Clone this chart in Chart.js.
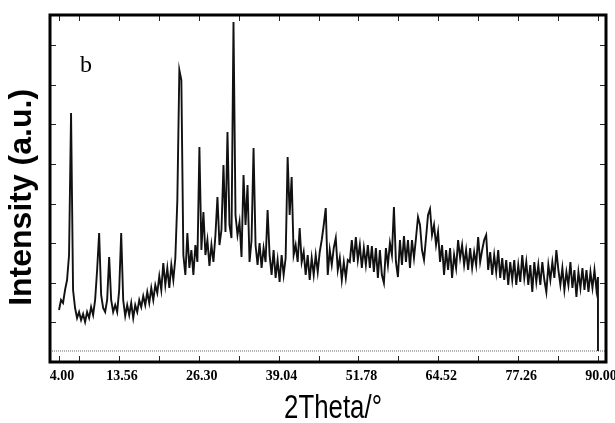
<!DOCTYPE html>
<html>
<head>
<meta charset="utf-8">
<script src="https://cdn.jsdelivr.net/npm/chart.js@4.4.0/dist/chart.umd.min.js"></script>
<style>
  html, body { margin: 0; padding: 0; background: #fff; }
</style>
</head>
<body>
<canvas id="xrdChart" width="615" height="423"></canvas>
<script>
// XRD pattern, panel b
// 2theta (deg) and intensity (a.u.)
const twoTheta = [
  4.00, 4.32, 4.64, 4.96, 5.28, 5.60, 5.92, 6.24, 6.56, 6.88,
  7.20, 7.52, 7.84, 8.16, 8.48, 8.80, 9.12, 9.44, 9.76, 10.08,
  10.40, 10.72, 11.04, 11.36, 11.68, 12.00, 12.32, 12.64, 12.96, 13.28,
  13.60, 13.92, 14.24, 14.56, 14.88, 15.20, 15.52, 15.84, 16.16, 16.48,
  16.80, 17.12, 17.44, 17.76, 18.08, 18.40, 18.72, 19.04, 19.36, 19.68,
  20.00, 20.32, 20.64, 20.96, 21.28, 21.60, 21.92, 22.24, 22.56, 22.88,
  23.20, 23.52, 23.84, 24.16, 24.48, 24.80, 25.12, 25.44, 25.76, 26.08,
  26.40, 26.72, 27.04, 27.36, 27.68, 28.00, 28.32, 28.64, 28.96, 29.28,
  29.60, 29.92, 30.24, 30.56, 30.88, 31.20, 31.52, 31.84, 32.16, 32.48,
  32.80, 33.12, 33.44, 33.76, 34.08, 34.40, 34.72, 35.04, 35.36, 35.68,
  36.00, 36.32, 36.64, 36.96, 37.28, 37.60, 37.92, 38.24, 38.56, 38.88,
  39.20, 39.52, 39.84, 40.16, 40.48, 40.80, 41.12, 41.44, 41.76, 42.08,
  42.40, 42.72, 43.04, 43.36, 43.68, 44.00, 44.32, 44.64, 44.96, 45.28,
  45.60, 45.92, 46.24, 46.56, 46.88, 47.20, 47.52, 47.84, 48.16, 48.48,
  48.80, 49.12, 49.44, 49.76, 50.08, 50.40, 50.72, 51.04, 51.36, 51.68,
  52.00, 52.32, 52.64, 52.96, 53.28, 53.60, 53.92, 54.24, 54.56, 54.88,
  55.20, 55.52, 55.84, 56.16, 56.48, 56.80, 57.12, 57.44, 57.76, 58.08,
  58.40, 58.72, 59.04, 59.36, 59.68, 60.00, 60.32, 60.64, 60.96, 61.28,
  61.60, 61.92, 62.24, 62.56, 62.88, 63.20, 63.52, 63.84, 64.16, 64.48,
  64.80, 65.12, 65.44, 65.76, 66.08, 66.40, 66.72, 67.04, 67.36, 67.68,
  68.00, 68.32, 68.64, 68.96, 69.28, 69.60, 69.92, 70.24, 70.56, 70.88,
  71.20, 71.52, 71.84, 72.16, 72.48, 72.80, 73.12, 73.44, 73.76, 74.08,
  74.40, 74.72, 75.04, 75.36, 75.68, 76.00, 76.32, 76.64, 76.96, 77.28,
  77.60, 77.92, 78.24, 78.56, 78.88, 79.20, 79.52, 79.84, 80.16, 80.48,
  80.80, 81.12, 81.44, 81.76, 82.08, 82.40, 82.72, 83.04, 83.36, 83.68,
  84.00, 84.32, 84.64, 84.96, 85.28, 85.60, 85.92, 86.24, 86.56, 86.88,
  87.20, 87.52, 87.84, 88.16, 88.48, 88.80, 89.12, 89.44, 89.76, 90.00,
  90.00
];

const intensity = [
  53, 63, 60, 73, 83, 108, 250, 73, 55, 45,
  51, 43, 49, 41, 51, 45, 56, 48, 63, 93,
  130, 68, 55, 51, 63, 106, 63, 51, 58, 51,
  73, 130, 63, 47, 58, 48, 60, 45, 58, 51,
  63, 56, 67, 58, 71, 60, 75, 63, 78, 70,
  87, 73, 100, 78, 95, 75, 98, 83, 105, 163,
  293, 283, 108, 88, 130, 95, 113, 88, 118, 101,
  216, 113, 151, 108, 123, 97, 118, 101, 128, 166,
  118, 133, 198, 131, 231, 138, 125, 341, 148, 128,
  141, 106, 188, 138, 178, 101, 123, 215, 118, 98,
  120, 95, 115, 101, 153, 108, 88, 113, 85, 103,
  81, 108, 88, 105, 206, 148, 186, 108, 118, 101,
  135, 101, 111, 88, 108, 83, 105, 88, 108, 91,
  111, 123, 138, 155, 88, 113, 98, 115, 125, 93,
  105, 83, 101, 85, 103, 101, 123, 101, 126, 103,
  118, 95, 115, 98, 118, 95, 117, 91, 115, 85,
  113, 88, 80, 115, 98, 120, 108, 156, 101, 86,
  123, 98, 127, 101, 123, 95, 123, 105, 125, 146,
  138, 113, 103, 125, 148, 154, 128, 138, 118, 131,
  101, 118, 88, 113, 93, 115, 85, 108, 95, 123,
  105, 118, 98, 113, 93, 115, 95, 111, 98, 126,
  101, 113, 123, 128, 93, 111, 88, 108, 91, 113,
  85, 105, 83, 103, 78, 101, 83, 103, 78, 98,
  81, 108, 85, 101, 78, 98, 71, 101, 81, 98,
  78, 101, 83, 71, 98, 83, 101, 85, 113, 93,
  78, 95, 73, 91, 78, 101, 75, 93, 66, 91,
  75, 95, 73, 93, 71, 91, 75, 93, 73, 86,
  12
];

const baselineLevel = 12;
const xTickValues = [4.00, 7.19, 13.56, 19.93, 26.30, 32.67, 39.04, 45.41, 51.78, 58.15, 64.52, 70.89, 77.26, 83.63, 90.00];
const xTickLabels = ['4.00', '13.56', '26.30', '39.04', '51.78', '64.52', '77.26', '90.00'];
const xRange = [2.56, 91.28];
const yRange = [1, 348];
const yTickStep = 39.6;
const xTitle = '2Theta/\u00b0';
const panelLabel = { text: 'b', x: 8.3, y: 297 };

const pattern = twoTheta.map((t, i) => ({ x: t, y: intensity[i] }));

// frame + inward ticks on all four sides, panel letter and the (narrow) x title
const framePlugin = {
    id: 'frame',
    afterDatasetsDraw(chart) {
        const { ctx, chartArea: a, scales: { x, y } } = chart;
        ctx.save();
        ctx.strokeStyle = '#222';
        ctx.lineWidth = 1;
        ctx.beginPath();
        x.ticks.forEach(t => {
            const px = Math.round(x.getPixelForValue(t.value)) + 0.5;
            ctx.moveTo(px, a.bottom);
            ctx.lineTo(px, a.bottom - 6);
            ctx.moveTo(px, a.top);
            ctx.lineTo(px, a.top + 6);
        });
        y.ticks.forEach(t => {
            const py = Math.round(y.getPixelForValue(t.value)) + 0.5;
            ctx.moveTo(a.left, py);
            ctx.lineTo(a.left + 6, py);
            ctx.moveTo(a.right, py);
            ctx.lineTo(a.right - 6, py);
        });
        ctx.stroke();
        ctx.strokeStyle = '#000';
        ctx.lineWidth = 3;
        ctx.strokeRect(a.left, a.top, a.right - a.left, a.bottom - a.top);

        ctx.fillStyle = '#000';
        ctx.font = '24px "Liberation Serif", "Times New Roman", serif';
        ctx.textAlign = 'center';
        ctx.textBaseline = 'middle';
        ctx.fillText(panelLabel.text, x.getPixelForValue(panelLabel.x), y.getPixelForValue(panelLabel.y));

        // x title: condensed sans, squeezed like the original figure
        const cx = (a.left + a.right) / 2 + 5;
        ctx.translate(cx, x.bottom - 5);
        ctx.scale(0.76, 1);
        ctx.font = '34px "Liberation Sans", Arial, sans-serif';
        ctx.textBaseline = 'alphabetic';
        ctx.fillText(xTitle, 0, 0);
        ctx.restore();
    }
};

const ctx = document.getElementById('xrdChart').getContext('2d');
new Chart(ctx, {
    type: 'line',
    data: {
        datasets: [{
            data: pattern,
            borderColor: '#111',
            borderWidth: 1.9,
            pointRadius: 0,
            tension: 0,
            fill: false
        }, {
            data: [{ x: xRange[0], y: baselineLevel }, { x: xRange[1], y: baselineLevel }],
            borderColor: '#666',
            borderWidth: 1,
            borderDash: [1, 1],
            pointRadius: 0
        }]
    },
    options: {
        responsive: false,
        animation: false,
        layout: { padding: { top: 15, right: 9, left: 0, bottom: 0 } },
        plugins: {
            legend: { display: false },
            tooltip: { enabled: false }
        },
        scales: {
            x: {
                type: 'linear',
                min: xRange[0],
                max: xRange[1],
                grid: { display: false, drawTicks: false },
                border: { display: false },
                afterBuildTicks: scale => {
                    scale.ticks = xTickValues.map(v => ({ value: v }));
                },
                afterFit: scale => {
                    scale.height = 61;
                    scale.paddingLeft = 0;
                    scale.paddingRight = 0;
                },
                ticks: {
                    autoSkip: false,
                    maxRotation: 0,
                    padding: 6,
                    labelOffset: 3,
                    color: '#000',
                    font: { family: '"Liberation Serif", "Times New Roman", serif', size: 14, weight: 'bold' },
                    callback: value => {
                        const s = value.toFixed(2);
                        return xTickLabels.includes(s) ? s : '';
                    }
                },
                title: { display: false }
            },
            y: {
                type: 'linear',
                min: yRange[0],
                max: yRange[1],
                grid: { display: false, drawTicks: false },
                border: { display: false },
                afterBuildTicks: scale => {
                    const ticks = [];
                    for (let v = yRange[0] + yTickStep; v < yRange[1]; v += yTickStep) ticks.push({ value: v });
                    scale.ticks = ticks;
                },
                afterFit: scale => {
                    scale.width = 50;
                    scale.paddingTop = 0;
                    scale.paddingBottom = 0;
                },
                ticks: { display: false },
                title: {
                    display: true,
                    text: 'Intensity (a.u.)  ',
                    color: '#000',
                    padding: { top: 6, bottom: 0 },
                    font: { family: '"Liberation Sans", Arial, sans-serif', size: 32, weight: 'bold', lineHeight: 1 }
                }
            }
        }
    },
    plugins: [framePlugin]
});
</script>
</body>
</html>
